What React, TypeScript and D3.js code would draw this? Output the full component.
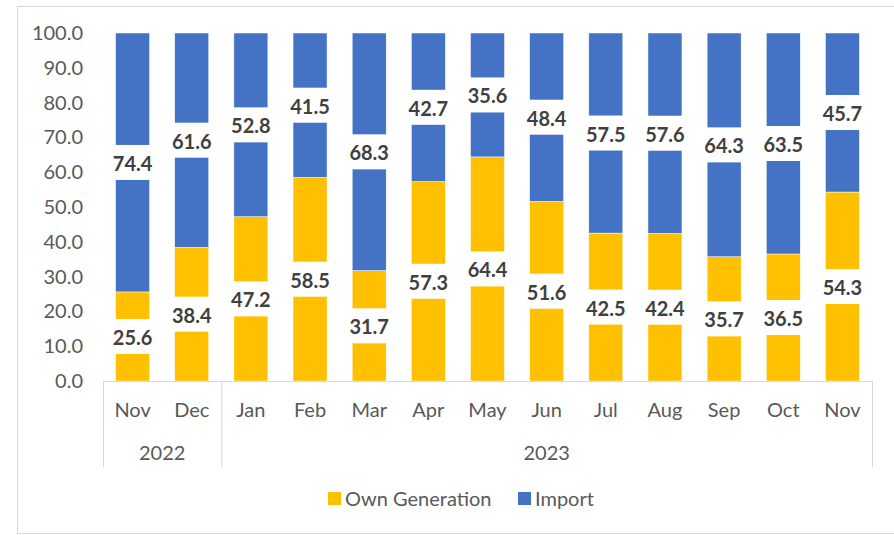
import React from 'react'
import * as d3 from 'd3'

const months = ['Nov', 'Dec', 'Jan', 'Feb', 'Mar', 'Apr', 'May', 'Jun', 'Jul', 'Aug', 'Sep', 'Oct', 'Nov']
const years = [
  { label: '2022', from: 0, to: 2 },
  { label: '2023', from: 2, to: 13 },
]
const ownGeneration = [25.6, 38.4, 47.2, 58.5, 31.7, 57.3, 64.4, 51.6, 42.5, 42.4, 35.7, 36.5, 54.3]
const importShare = [74.4, 61.6, 52.8, 41.5, 68.3, 42.7, 35.6, 48.4, 57.5, 57.6, 64.3, 63.5, 45.7]
const yTicks = [0, 10, 20, 30, 40, 50, 60, 70, 80, 90, 100]

const GOLD = '#FFC000'
const BLUE = '#4472C4'
const FONT = 'Lato, "Open Sans", sans-serif'

const App = () => {
  const width = 894
  const height = 535
  const left = 103
  const right = 872
  const top = 33
  const bottom = 381

  const x = d3.scaleBand<number>()
    .domain(d3.range(months.length))
    .range([left, right])
    .paddingInner(0.425)
    .paddingOuter(0.2125)

  const y = d3.scaleLinear().domain([0, 100]).range([bottom, top])

  const stack = months.map((_, i) => ({ own: ownGeneration[i], imp: importShare[i] }))

  const series = d3.stack<{ own: number; imp: number }>().keys(['own', 'imp'])(stack)
  const colors = [GOLD, BLUE]

  const step = x.step()
  const edge = (i: number) => left + i * step

  return (
    <svg width={width} height={height} style={{ position: 'absolute', left: 0, top: 0 }}>
      <rect x={17.5} y={6.5} width={900} height={527} fill="#fff" stroke="#d9d9d9" />

      {yTicks.map((t) => (
        <text key={t} x={83} y={y(t)} dy="0.35em" textAnchor="end" fontFamily={FONT} fontSize={20} fill="#595959">
          {t.toFixed(1)}
        </text>
      ))}

      {series.map((s, si) => (
        <g key={si}>
          {s.map((d, i) => (
            <rect
              key={i}
              x={x(i)}
              y={y(d[1])}
              width={x.bandwidth()}
              height={y(d[0]) - y(d[1])}
              fill={colors[si]}
              stroke="#fff"
              strokeWidth={0.5}
            />
          ))}
        </g>
      ))}

      {series.map((s, si) => (
        <g key={'l' + si}>
          {s.map((d, i) => {
            const cx = (x(i) as number) + x.bandwidth() / 2
            const cy = y((d[0] + d[1]) / 2)
            return (
              <g key={i}>
                <rect x={cx - 25} y={cy - 17.5} width={50} height={35} fill="#fff" />
                <text x={cx} y={cy + 1.5} dy="0.35em" textAnchor="middle" fontFamily={FONT} fontWeight="bold" fontSize={20} fill="#404040">
                  {(d[1] - d[0]).toFixed(1)}
                </text>
              </g>
            )
          })}
        </g>
      ))}

      <line x1={left} x2={right} y1={bottom + 0.5} y2={bottom + 0.5} stroke="#d9d9d9" />
      {[0, 2, 13].map((i) => (
        <line key={i} x1={edge(i) + 0.5} x2={edge(i) + 0.5} y1={bottom} y2={467} stroke="#d9d9d9" />
      ))}

      {months.map((m, i) => (
        <text key={i} x={(x(i) as number) + x.bandwidth() / 2} y={410} dy="0.35em" textAnchor="middle" fontFamily={FONT} fontSize={20} fill="#595959">
          {m}
        </text>
      ))}
      {years.map((yr) => (
        <text key={yr.label} x={(edge(yr.from) + edge(yr.to)) / 2} y={453} dy="0.35em" textAnchor="middle" fontFamily={FONT} fontSize={20} fill="#595959">
          {yr.label}
        </text>
      ))}

      <g fontFamily={FONT} fontSize={20} fill="#595959">
        <rect x={328} y={492} width={13} height={13} fill={GOLD} />
        <text x={345} y={499} dy="0.35em">Own Generation</text>
        <rect x={518} y={492} width={13} height={13} fill={BLUE} />
        <text x={535} y={499} dy="0.35em">Import</text>
      </g>
    </svg>
  )
}

export default App
